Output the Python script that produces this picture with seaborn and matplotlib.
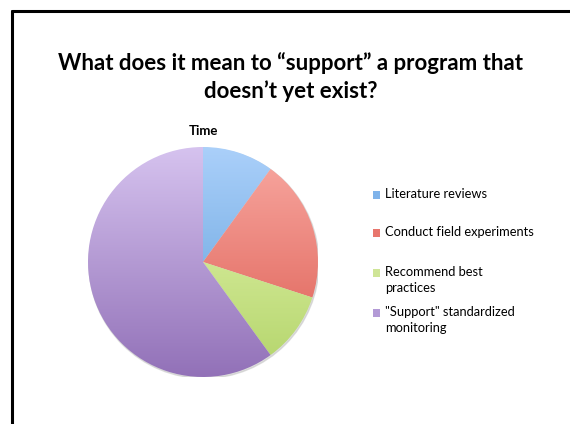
#gráfico de pizza no estilo slide: "Time" dividido entre as atividades
import numpy as np
import matplotlib
matplotlib.use("Agg")
import matplotlib.pyplot as plt
from matplotlib.colors import LinearSegmentedColormap
from matplotlib.patches import Rectangle
from matplotlib.lines import Line2D
import seaborn as sns

sns.set_theme(style="white")
plt.rcParams['font.family'] = ['Lato', 'DejaVu Sans']
plt.rcParams['text.color'] = "black"

#dados
categorias = ["Literature reviews", "Conduct field experiments",
              "Recommend best\npractices", "\"Support\" standardized\nmonitoring"]
valores = [10, 20, 10, 60]
cores_topo = ["#abd0fa", "#f9aaa3", "#e9f9b6", "#d6c3ef"]
cores_base = ["#5a9bd8", "#dc5a4f", "#b3d46a", "#9271b8"]
cores_legenda = ["#7fb3ea", "#e8766d", "#cfe597", "#b39ad6"]

titulo = "What does it mean to \u201csupport\u201d a program that\ndoesn\u2019t yet exist?"
subtitulo = "Time"

fig = plt.figure(figsize=(5.7, 4.24), dpi=100)
fig.patch.set_facecolor("white")

#moldura do slide (só topo e esquerda aparecem)
fig.add_artist(Line2D([12/570, 12/570], [0, 1 - 11/424], color="black", lw=2.2))
fig.add_artist(Line2D([12/570, 1], [1 - 11/424, 1 - 11/424], color="black", lw=2.2))

fig.text(291/570, 1 - 77/424, titulo, ha="center", va="center",
         fontsize=16.0, fontweight="bold", linespacing=1.32)
fig.text(203/570, 1 - 131/424, subtitulo, ha="center", va="center",
         fontsize=9.5, fontweight="bold")

#eixo da pizza
ax = fig.add_axes([88/570, 47/424, 230/570, 230/424])
ax.set_aspect("equal")
ax.axis("off")

#sombra leve
sombra = plt.Circle((0.008, -0.012), 1.0, color="#c8c8c8", alpha=0.6, zorder=0)
ax.add_patch(sombra)

wedges, _ = ax.pie(valores, startangle=90, counterclock=False, radius=1.0)
gradiente = np.linspace(0, 1, 256).reshape(-1, 1)
for w, c0, c1 in zip(wedges, cores_topo, cores_base):
    w.set_facecolor("none")
    w.set_edgecolor("none")
    cmap = LinearSegmentedColormap.from_list("g", [c0, c1])
    im = ax.imshow(gradiente, cmap=cmap, extent=(-1, 1, -1, 1),
                   origin="upper", aspect="auto", zorder=1)
    im.set_clip_path(w)
ax.set_xlim(-1, 1)
ax.set_ylim(-1, 1)

#legenda manual (estilo powerpoint)
y_linhas = [195, 233, 273, 313]
for cat, cor, y in zip(categorias, cores_legenda, y_linhas):
    fig.add_artist(Rectangle((373/570, 1 - (y + 4)/424), 7/570, 8/424,
                             facecolor=cor, edgecolor="none",
                             transform=fig.transFigure))
    fig.text(385/570, 1 - (y - 7)/424, cat, ha="left", va="top",
             fontsize=9.3, linespacing=1.35)

fig.savefig("out.png", dpi=100)
